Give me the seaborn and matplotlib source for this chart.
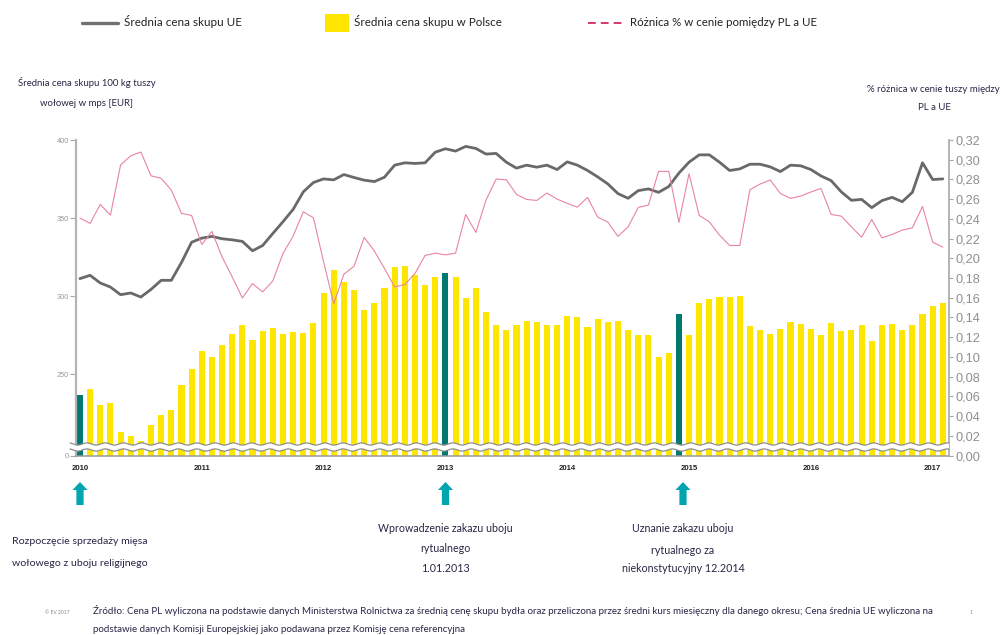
import numpy as np
import pandas as pd
import matplotlib
matplotlib.use('Agg')
import matplotlib.pyplot as plt
from matplotlib.lines import Line2D
from matplotlib.patches import Polygon, Rectangle
import seaborn as sns

# monthly, Jan 2010 - Feb 2017
pl_price = [236.7, 240.6, 230.3, 231.6, 212.9, 210.3, 207.1, 217.4, 223.8, 227.0,
            243.1, 253.4, 265.0, 261.1, 268.8, 275.9, 281.7, 272.0, 277.8, 279.7,
            275.9, 277.1, 276.5, 283.0, 302.3, 316.5, 309.4, 304.2, 291.3, 295.9,
            305.5, 319.0, 319.6, 313.8, 307.4, 312.5, 315.0, 312.5, 299.0, 305.5,
            290.0, 281.7, 278.5, 281.7, 284.2, 283.6, 281.7, 281.7, 287.5, 286.8,
            280.4, 285.5, 283.6, 284.2, 278.5, 275.3, 275.3, 261.1, 263.7, 288.8,
            275.3, 295.9, 298.4, 299.7, 299.7, 300.3, 281.1, 278.5, 275.9, 279.1,
            283.6, 282.3, 279.1, 275.3, 283.0, 277.8, 278.5, 281.7, 271.4, 281.7,
            282.3, 278.5, 281.7, 288.8, 293.9, 295.9]

eu_price = [311.3, 313.4, 308.5, 305.9, 301.0, 302.1, 299.5, 304.4, 310.2, 310.2,
            321.6, 334.6, 337.2, 338.3, 336.8, 336.1, 335.1, 329.1, 332.5, 340.2,
            347.7, 355.6, 366.8, 372.8, 375.1, 374.5, 377.9, 376.0, 374.3, 373.4,
            376.2, 383.9, 385.4, 385.0, 385.4, 392.2, 394.4, 392.9, 395.9, 394.6,
            391.0, 391.4, 385.8, 382.0, 383.9, 382.6, 383.9, 381.1, 386.0, 383.9,
            380.5, 376.4, 371.9, 365.7, 362.7, 367.6, 368.7, 366.5, 370.2, 378.8,
            385.8, 390.5, 390.5, 385.8, 380.5, 381.5, 384.5, 384.5, 382.8, 379.8,
            383.9, 383.5, 381.1, 377.0, 374.0, 366.8, 361.4, 362.0, 356.7, 361.2,
            363.3, 360.5, 366.5, 385.4, 374.7, 375.1]

diff_pct = [.2408, .2354, .2547, .2438, .2946, .3040, .3078, .2837, .2811, .2692,
            .2455, .2435, .2140, .2272, .2014, .1811, .1598, .1744, .1659, .1771,
            .2049, .2225, .2472, .2411, .1964, .1541, .1839, .1920, .2212, .2075,
            .1897, .1710, .1734, .1846, .2029, .2052, .2035, .2052, .2445, .2262,
            .2590, .2804, .2797, .2648, .2597, .2587, .2662, .2601, .2557, .2519,
            .2618, .2418, .2367, .2222, .2319, .2516, .2540, .2882, .2882, .2364,
            .2858, .2435, .2370, .2235, .2130, .2130, .2695, .2753, .2794, .2658,
            .2608, .2631, .2672, .2709, .2445, .2428, .2319, .2215, .2394, .2207,
            .2242, .2286, .2309, .2526, .2164, .2113]

highlight_months = [0, 36, 59]
year_ticks = [0, 12, 24, 36, 48, 60, 72, 84]
year_labels = ['2010', '2011', '2012', '2013', '2014', '2015', '2016', '2017']
left_ticks = [0, 250, 300, 350, 400]
right_ticks = [0.00, 0.02, 0.04, 0.06, 0.08, 0.10, 0.12, 0.14, 0.16, 0.18,
               0.20, 0.22, 0.24, 0.26, 0.28, 0.30, 0.32]

YELLOW = '#FFE600'
TEAL = '#007A70'
ARROW = '#00A5B0'
GREY = '#696969'
PINK = '#E8849F'
NAVY = '#2A2545'
W, H = 1001, 635

sns.set_theme(style='white')
plt.rcParams['font.family'] = ['Lato', 'DejaVu Sans']

df = pd.DataFrame({'month': range(len(pl_price)), 'pl': pl_price, 'eu': eu_price, 'diff': diff_pct})
bar_colors = {m: (TEAL if m in highlight_months else YELLOW) for m in df['month']}


def fx(x):
    return x / W


def fy(y):
    return 1 - y / H


# the left axis is broken between 0 and 200
def squeeze(v):
    v = np.asarray(v, dtype=float)
    return np.where(v < 200, 198.1 + v * 0.0095, v)


def unsqueeze(t):
    t = np.asarray(t, dtype=float)
    return np.where(t < 200, (t - 198.1) / 0.0095, t)


fig = plt.figure(figsize=(W / 100, H / 100), dpi=100)
ax = fig.add_axes([fx(76), fy(455.5), (949 - 76) / W, (455.5 - 140) / H])
sns.barplot(data=df, x='month', y='pl', hue='month', palette=bar_colors, dodge=False,
            width=0.6, legend=False, saturation=1, linewidth=0, ax=ax)
sns.lineplot(data=df, x='month', y='eu', color=GREY, linewidth=2.0, ax=ax, zorder=4)
ax.set_yscale('function', functions=(squeeze, unsqueeze))
ax.set_ylim(0, 400)
ax.set_xlim(-0.39, 85.61)
ax.set_yticks(left_ticks)
ax.set_yticklabels([str(t) for t in left_ticks], family='Liberation Sans', fontsize=5.3, color='#9a9a9a')
ax.set_xticks(year_ticks)
ax.set_xticklabels(year_labels, family='Liberation Sans', fontsize=5.6, fontweight='bold', color='#222222')
ax.set_xlabel('')
ax.set_ylabel('')
ax.tick_params(axis='x', length=0, pad=7)
ax.tick_params(axis='y', length=4, width=0.8, color='#a8a8a8', pad=1, left=True)

ax2 = ax.twinx()
sns.lineplot(data=df, x='month', y='diff', color=PINK, linewidth=0.8, ax=ax2)
ax2.set_ylim(0, 0.32)
ax2.set_yticks(right_ticks)
ax2.set_yticklabels([f'{t:.2f}'.replace('.', ',') for t in right_ticks],
                    family='Liberation Sans', fontsize=9.2, color='#8f8f8f')
ax2.set_ylabel('')
ax2.tick_params(axis='y', length=3, width=0.8, color='#a8a8a8', pad=2, right=True)

for a in (ax, ax2):
    a.patch.set_alpha(0)
    for side in ('top', 'left', 'right', 'bottom'):
        a.spines[side].set_visible(False)
ax.spines['left'].set_visible(True)
ax.spines['left'].set_color('#b4b4b4')
ax.spines['left'].set_linewidth(1.6)
ax.spines['bottom'].set_visible(True)
ax.spines['bottom'].set_color('#9a9a9a')
ax.spines['bottom'].set_linewidth(1.1)
ax2.spines['right'].set_visible(True)
ax2.spines['right'].set_color('#a8a8a8')
ax2.spines['right'].set_linewidth(1.2)

# axis break: white band between two wavy lines
wx = np.linspace(70, 949, 600)
upper = 444 + 1.1 * np.sin(wx / 18.3 * 2 * np.pi)
lower = 450 + 1.1 * np.sin(wx / 18.3 * 2 * np.pi)
band = np.column_stack([np.r_[wx, wx[::-1]] / W, 1 - np.r_[upper, lower[::-1]] / H])
fig.add_artist(Polygon(band, closed=True, facecolor='white', edgecolor='none', transform=fig.transFigure, zorder=5))
for wave in (upper, lower):
    fig.add_artist(Line2D(wx / W, 1 - wave / H, color='#8e8e8e', lw=0.9, transform=fig.transFigure, zorder=6))

# legend row
fig.add_artist(Line2D([fx(82), fx(118)], [fy(22.5), fy(22.5)], color='#707070', lw=2.4))
fig.add_artist(Rectangle((fx(325), fy(32)), 24 / W, 18 / H, facecolor=YELLOW, edgecolor='none', transform=fig.transFigure))
fig.add_artist(Line2D([fx(588), fx(623)], [fy(22.5), fy(22.5)], color='#D9376E', lw=1.4, dashes=(4, 2.6)))

# upward arrows under the axis
for cx in (80, 445.5, 683):
    pts = [(cx - 7.5, 490), (cx, 482), (cx + 7.5, 490), (cx + 3.6, 490), (cx + 3.6, 505),
           (cx - 3.6, 505), (cx - 3.6, 490)]
    fig.add_artist(Polygon([(fx(p), fy(q)) for p, q in pts], closed=True, facecolor=ARROW,
                           edgecolor='none', transform=fig.transFigure))


def label(x, y, s, size=8.0, ha='center', color=NAVY):
    fig.text(fx(x), fy(y), s, fontsize=size, ha=ha, va='center', color=color)


label(124, 22, 'Średnia cena skupu UE', 8.4, 'left', '#222222')
label(354, 22, 'Średnia cena skupu w Polsce', 8.4, 'left', '#222222')
label(630, 22, 'Różnica % w cenie pomiędzy PL a UE', 8.25, 'left', '#222222')

label(87, 83, 'Średnia cena skupu 100 kg tuszy', 6.9)
label(87, 103, 'wołowej w mps [EUR]', 6.9)
label(1000, 89, '% różnica w cenie tuszy między', 6.95, 'right')
label(934, 108, 'PL a UE', 6.95)

label(80, 542, 'Rozpoczęcie sprzedaży mięsa', 7.55)
label(80, 563, 'wołowego z uboju religijnego', 7.55)
label(445, 528, 'Wprowadzenie zakazu uboju', 7.65)
label(445, 549, 'rytualnego', 7.65)
label(445, 568, '1.01.2013', 7.65)
label(683, 529, 'Uznanie zakazu uboju', 7.7)
label(683, 550, 'rytualnego za', 7.7)
label(683, 569, 'niekonstytucyjny 12.2014', 7.7)

label(93, 611, 'Źródło: Cena PL wyliczona na podstawie danych Ministerstwa Rolnictwa za średnią cenę skupu bydła oraz przeliczona przez średni kurs miesięczny dla danego okresu; Cena średnia UE wyliczona na', 7.0, 'left')
label(93, 630, 'podstawie danych Komisji Europejskiej jako podawana przez Komisję cena referencyjna', 7.0, 'left')
label(57, 612, '© EV 2017', 3.6, 'center', '#8a8a8a')
label(971, 612, '1', 3.6, 'center', '#8a8a8a')

fig.savefig('out.png', dpi=100)
